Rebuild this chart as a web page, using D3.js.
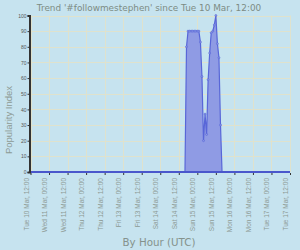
<!DOCTYPE html>
<html>
<head>
<meta charset="utf-8">
<script src="https://d3js.org/d3.v7.min.js"></script>
<style>
  body { margin: 0; background: #c6e3ef; }
  svg { display: block; font-family: "DejaVu Sans", Verdana, sans-serif; }
</style>
</head>
<body>
<script>
// hours after Tue 10 Mar 12:00 UTC -> popularity index
const peakHours  = [100, 101, 102, 103, 104, 105, 106, 107, 108, 109, 110, 111, 112, 113, 114, 115, 116, 117, 118, 119, 120, 121, 122, 123, 124];
const peakValues = [0,   80,  90,  90,  90,  90,  90,  90,  90,  90,  83,  61,  20,  37,  24,  59,  76,  89,  90,  94,  100, 82,  73,  30,  0];
const yTicks = [0, 10, 20, 30, 40, 50, 60, 70, 80, 90, 100];
const xTickLabels = [
  "Tue 10 Mar, 12:00", "Wed 11 Mar, 00:00", "Wed 11 Mar, 12:00", "Thu 12 Mar, 00:00",
  "Thu 12 Mar, 12:00", "Fri 13 Mar, 00:00", "Fri 13 Mar, 12:00", "Sat 14 Mar, 00:00",
  "Sat 14 Mar, 12:00", "Sun 15 Mar, 00:00", "Sun 15 Mar, 12:00", "Mon 16 Mar, 00:00",
  "Mon 16 Mar, 12:00", "Tue 17 Mar, 00:00", "Tue 17 Mar, 12:00"
];
const totalHours = 168;

// full hourly series, zero outside the peak
const series = d3.range(0, totalHours + 1).map(h => {
  const i = peakHours.indexOf(h);
  return { h: h, v: i >= 0 ? peakValues[i] : 0 };
});

const W = 300, H = 250;
const m = { top: 15.5, right: 10, bottom: 78, left: 30.5 };

const svg = d3.select("body").append("svg").attr("width", W).attr("height", H);

const x = d3.scaleLinear().domain([0, totalHours]).range([m.left, W - m.right]);
const y = d3.scaleLinear().domain([0, 100]).range([H - m.bottom, m.top]);

const tickHours = xTickLabels.map((d, i) => i * 12);

// grid
const grid = svg.append("g").attr("stroke", "#dfe2cd").attr("stroke-width", 1);
grid.selectAll(".gx").data(tickHours).enter().append("line")
  .attr("x1", d => Math.round(x(d)) + 0.5).attr("x2", d => Math.round(x(d)) + 0.5)
  .attr("y1", y(100)).attr("y2", y(0));
grid.selectAll(".gy").data(yTicks).enter().append("line")
  .attr("x1", x(0)).attr("x2", x(totalHours))
  .attr("y1", d => Math.round(y(d)) + 0.5).attr("y2", d => Math.round(y(d)) + 0.5);

// area + line
const area = d3.area().x(d => x(d.h)).y0(y(0)).y1(d => y(d.v));
const line = d3.line().x(d => x(d.h)).y(d => y(d.v));

svg.append("path").datum(series).attr("d", area)
  .attr("fill", "#8f9be4").attr("stroke", "none");
svg.append("path").datum(series).attr("d", line)
  .attr("fill", "none").attr("stroke", "#5866d8").attr("stroke-width", 1.2);

// baseline
svg.append("line")
  .attr("x1", x(0)).attr("x2", x(totalHours)).attr("y1", y(0)).attr("y2", y(0))
  .attr("stroke", "#4a57cc").attr("stroke-width", 2);

// markers on the peak
svg.selectAll(".pt").data(series.filter(d => d.v > 0)).enter().append("circle")
  .attr("cx", d => x(d.h)).attr("cy", d => y(d.v)).attr("r", 1)
  .attr("fill", "#8f9be4").attr("stroke", "#5866d8").attr("stroke-width", 0.6);

// y axis
const yAxis = d3.axisLeft(y).tickValues(yTicks).tickSize(2).tickPadding(1);
const ya = svg.append("g").attr("transform", `translate(${m.left - 1},0)`).call(yAxis);
ya.select(".domain").attr("stroke", "#333").attr("stroke-width", 2);
ya.selectAll(".tick line").attr("stroke", "#333");
ya.selectAll("text").attr("fill", "#555").style("font-size", "5px");

// x axis
const xAxis = d3.axisBottom(x).tickValues(tickHours).tickSize(2).tickFormat((d, i) => xTickLabels[i]);
const xa = svg.append("g").attr("transform", `translate(0,${y(0) + 1})`).call(xAxis);
xa.select(".domain").remove();
xa.selectAll(".tick line").attr("stroke", "#333");
xa.selectAll("text").attr("fill", "#8d9a94").style("font-size", "6.5px")
  .attr("text-anchor", "end").attr("transform", "rotate(-90)")
  .attr("x", -5).attr("y", -2.5).attr("dy", "0");

// titles
svg.append("text").attr("x", 149).attr("y", 11).attr("text-anchor", "middle")
  .attr("fill", "#7d8c84").style("font-size", "8.9px")
  .text("Trend '#followmestephen' since Tue 10 Mar, 12:00");
svg.append("text").attr("x", 159).attr("y", 246).attr("text-anchor", "middle")
  .attr("fill", "#85928c").style("font-size", "10.3px").text("By Hour (UTC)");
svg.append("text").attr("transform", "translate(12,120) rotate(-90)").attr("text-anchor", "middle")
  .attr("fill", "#8d9a94").style("font-family", "'Liberation Sans', Arial, sans-serif")
  .style("font-size", "9.5px").text("Popularity Index");
</script>
</body>
</html>
